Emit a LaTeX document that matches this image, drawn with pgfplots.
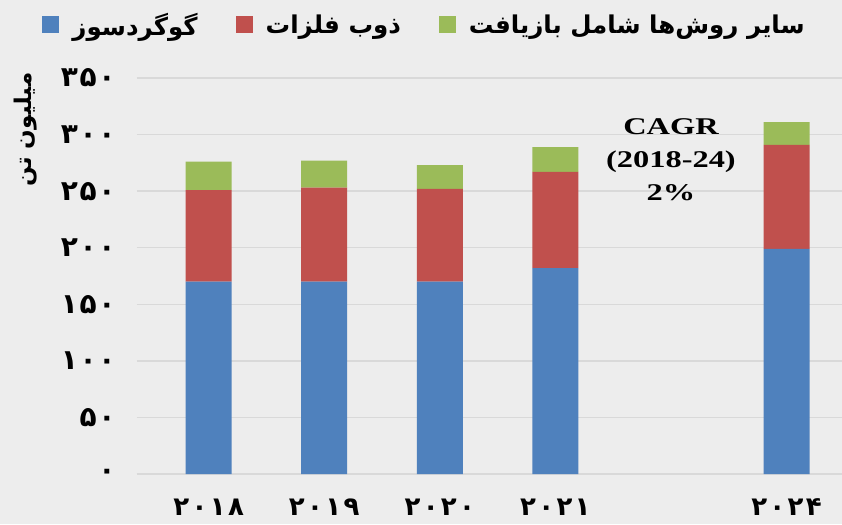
\documentclass[border=0pt]{standalone}
\usepackage{pgfplots}
\pgfplotsset{compat=1.18}
\usepackage{fontspec}
\setmainfont{Liberation Serif}
\TeXXeTstate=1
\newfontfamily\fafont[Script=Arabic]{DejaVu Sans}
\newfontfamily\fadig[LetterSpace=6]{DejaVu Sans}
\newfontfamily\fadigx[LetterSpace=9]{DejaVu Sans}
\newfontfamily\cagrfont[FakeStretch=1.35]{Liberation Serif}
\definecolor{bg}{HTML}{EDEDED}
\definecolor{gridc}{HTML}{D9D9D9}
\definecolor{cblue}{HTML}{4F81BD}
\definecolor{cred}{HTML}{C0504D}
\definecolor{cgreen}{HTML}{9BBB59}
\pgfplotsset{sq/.style={legend image code/.code={\fill[##1] (0pt,-8pt) rectangle (17pt,9pt);}}}
\begin{document}
\begin{tikzpicture}
\fill[bg] (-137pt,-50pt) rectangle (705pt,474pt);
\begin{axis}[
 at={(0,0)}, anchor=south west,
 scale only axis, width=705pt, height=396pt,
 xmin=-0.62, xmax=5.48, ymin=0, ymax=350,
 ybar stacked, bar width=46pt,
 xtick={0,1,2,3,5}, xticklabels={۲۰۱۸,۲۰۱۹,۲۰۲۰,۲۰۲۱,۲۰۲۴},
 ytick={0,50,...,350}, yticklabels={۰,۵۰,۱۰۰,۱۵۰,۲۰۰,۲۵۰,۳۰۰,۳۵۰},
 ymajorgrids, grid style={gridc, line width=1.5pt},
 axis x line*=bottom, axis y line*=left,
 x axis line style={gridc, line width=1.5pt, -},
 y axis line style={draw=none},
 major tick length=0pt,
 yticklabel style={xshift=-18pt, font=\fadig\bfseries\fontsize{28}{32}\selectfont},
 xticklabel style={yshift=-21pt, font=\fadigx\bfseries\fontsize{26}{30}\selectfont},
 ylabel={\fafont\bfseries\beginR میلیون تن\endR},
 ylabel style={at={(axis description cs:-0.158,0.87)}, anchor=center, font=\fontsize{23}{27}\selectfont},
 legend style={at={(axis description cs:0.408,1.134)}, anchor=center, draw=none, fill=none,
   font=\fafont\bfseries\fontsize{24.5}{28}\selectfont,
   /tikz/every odd column/.append style={column sep=11pt},
   /tikz/every even column/.append style={column sep=36pt}},
 legend columns=3,
]
\addplot[fill=cblue, draw=none, sq] coordinates {(0,170) (1,170) (2,170) (3,182) (5,199)};
\addlegendentry{\beginR گوگردسوز\endR}
\addplot[fill=cred, draw=none, sq] coordinates {(0,81) (1,83) (2,82) (3,85) (5,92)};
\addlegendentry{\beginR ذوب فلزات\endR}
\addplot[fill=cgreen, draw=none, sq] coordinates {(0,25) (1,24) (2,21) (3,22) (5,20)};
\addlegendentry{\beginR سایر روش‌ها شامل بازیافت\endR}
\node[font=\cagrfont\bfseries\fontsize{24}{33}\selectfont, align=center] at (axis cs:4.0,278) {CAGR\\(2018-24)\\2\%};
\end{axis}
\pgfresetboundingbox
\path[use as bounding box] (-137pt,-50pt) rectangle (705pt,474pt);
\end{tikzpicture}
\end{document}
